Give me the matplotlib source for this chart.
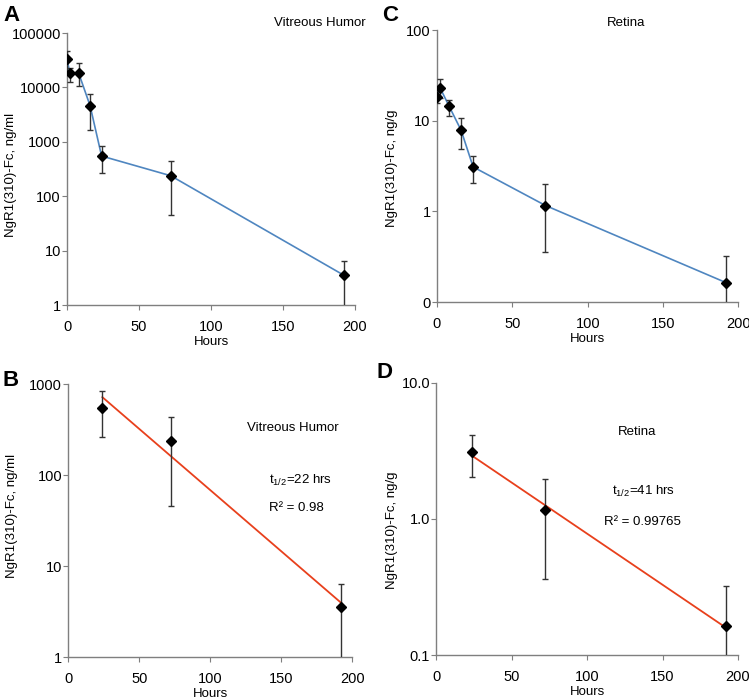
import numpy as np
import matplotlib.pyplot as plt
from matplotlib.ticker import FixedLocator, FuncFormatter, NullLocator

plt.rcParams['font.family'] = ['Liberation Sans', 'DejaVu Sans']

# vitreous humor (ng/ml)
vh_hours = [0, 2, 8, 16, 24, 72, 192]
vh_mean = [32900, 18100, 18600, 4610, 548, 238, 3.56]
vh_hi = [47300, 23000, 27600, 7600, 830, 435, 6.4]
vh_lo = [20000, 12700, 10600, 1650, 263, 46, 0.5]

# retina (ng/g)
rt_hours = [0, 2, 8, 16, 24, 72, 192]
rt_mean = [18.3, 23.1, 14.5, 7.85, 3.09, 1.16, 0.163]
rt_hi = [21.4, 29.0, 17.1, 10.8, 4.12, 1.98, 0.32]
rt_lo = [15.5, 18.0, 11.2, 4.93, 2.04, 0.36, 0.05]

fit_from = 4  # terminal phase starts at 24 h

blue = '#4f86c0'
red = '#e8401c'
grey = '#7f7f7f'


def style(ax, ymin, ymax, fmt, ylabel, lx, ly):
    ax.set_yscale('log')
    ax.set_xlim(0, 200)
    ax.set_ylim(ymin, ymax)
    ax.set_xticks([0, 50, 100, 150, 200])
    decades = 10.0 ** np.arange(np.log10(ymin), np.log10(ymax) + 0.5)
    ax.yaxis.set_major_locator(FixedLocator(decades))
    ax.yaxis.set_minor_locator(NullLocator())
    ax.yaxis.set_major_formatter(FuncFormatter(lambda v, p: fmt % v))
    for s in ['top', 'right']:
        ax.spines[s].set_visible(False)
    for s in ['left', 'bottom']:
        ax.spines[s].set_color(grey)
        ax.spines[s].set_linewidth(1.0)
    ax.tick_params(axis='both', colors=grey, labelcolor='black', labelsize=10.5,
                   length=3.5, direction='out')
    ax.tick_params(axis='x', pad=7.5)
    ax.tick_params(axis='y', pad=1)
    ax.set_xlabel('Hours', fontsize=9.5, labelpad=1.5)
    ax.set_ylabel(ylabel, fontsize=9.5)
    ax.yaxis.set_label_coords(lx, ly)


def points(ax, h, m, lo, hi):
    m = np.array(m)
    err = [m - np.array(lo), np.array(hi) - m]
    ax.errorbar(h, m, yerr=err, fmt='none', ecolor='#333333', elinewidth=1,
                capsize=2.5, capthick=1, zorder=3)
    ax.plot(h, m, 'D', color='black', markersize=5.5, zorder=4)


def fit(h, m):
    x = np.array(h, dtype=float)
    y = np.log(np.array(m))
    slope, icpt = np.polyfit(x, y, 1)
    pred = slope * x + icpt
    r2 = 1 - np.sum((y - pred) ** 2) / np.sum((y - y.mean()) ** 2)
    xs = np.array([x[0], x[-1]])
    return xs, np.exp(slope * xs + icpt), r2


def note(ax, x, y, s):
    ax.text(x, y, s, transform=ax.transAxes, fontsize=9.5, va='center', ha='left')


fig = plt.figure(figsize=(7.49, 6.98), dpi=100)
axA = fig.add_axes([0.0895, 0.563, 0.3845, 0.3897])
axC = fig.add_axes([0.5834, 0.5673, 0.4025, 0.3897])
axB = fig.add_axes([0.0912, 0.0587, 0.379, 0.391])
axD = fig.add_axes([0.5825, 0.0616, 0.4027, 0.3897])

# A
axA.plot(vh_hours, vh_mean, color=blue, lw=1.2, zorder=2)
points(axA, vh_hours, vh_mean, vh_lo, vh_hi)
style(axA, 1, 100000, '%.0f', 'NgR1(310)-Fc, ng/ml', -0.174, 0.48)
note(axA, 0.719, 1.037, 'Vitreous Humor')

# C
axC.plot(rt_hours, rt_mean, color=blue, lw=1.2, zorder=2)
points(axC, rt_hours, rt_mean, rt_lo, rt_hi)
style(axC, 0.1, 100, '%.0f', 'NgR1(310)-Fc, ng/g', -0.129, 0.49)
note(axC, 0.564, 1.026, 'Retina')

# B
xs, ys, r2 = fit(vh_hours[fit_from:], vh_mean[fit_from:])
axB.plot(xs, ys, color=red, lw=1.3, zorder=2)
points(axB, vh_hours[fit_from:], vh_mean[fit_from:], vh_lo[fit_from:], vh_hi[fit_from:])
style(axB, 1, 1000, '%.0f', 'NgR1(310)-Fc, ng/ml', -0.177, 0.516)
note(axB, 0.63, 0.839, 'Vitreous Humor')
note(axB, 0.708, 0.648, '$\\mathregular{t_{1/2}}$=22 hrs')
note(axB, 0.708, 0.546, 'R² = 0.98')

# D
xs, ys, r2 = fit(rt_hours[fit_from:], rt_mean[fit_from:])
axD.plot(xs, ys, color=red, lw=1.3, zorder=2)
points(axD, rt_hours[fit_from:], rt_mean[fit_from:], rt_lo[fit_from:], rt_hi[fit_from:])
style(axD, 0.1, 10, '%.1f', 'NgR1(310)-Fc, ng/g', -0.127, 0.46)
note(axD, 0.603, 0.821, 'Retina')
note(axD, 0.581, 0.600, '$\\mathregular{t_{1/2}}$=41 hrs')
note(axD, 0.557, 0.49, 'R² = 0.99765')

for lab, x, y in [('A', 0.004, 0.993), ('C', 0.5096, 0.993), ('B', 0.003, 0.470), ('D', 0.503, 0.4814)]:
    fig.text(x, y, lab, fontsize=16, fontweight='bold', va='top')

fig.savefig('out.png', dpi=100)
